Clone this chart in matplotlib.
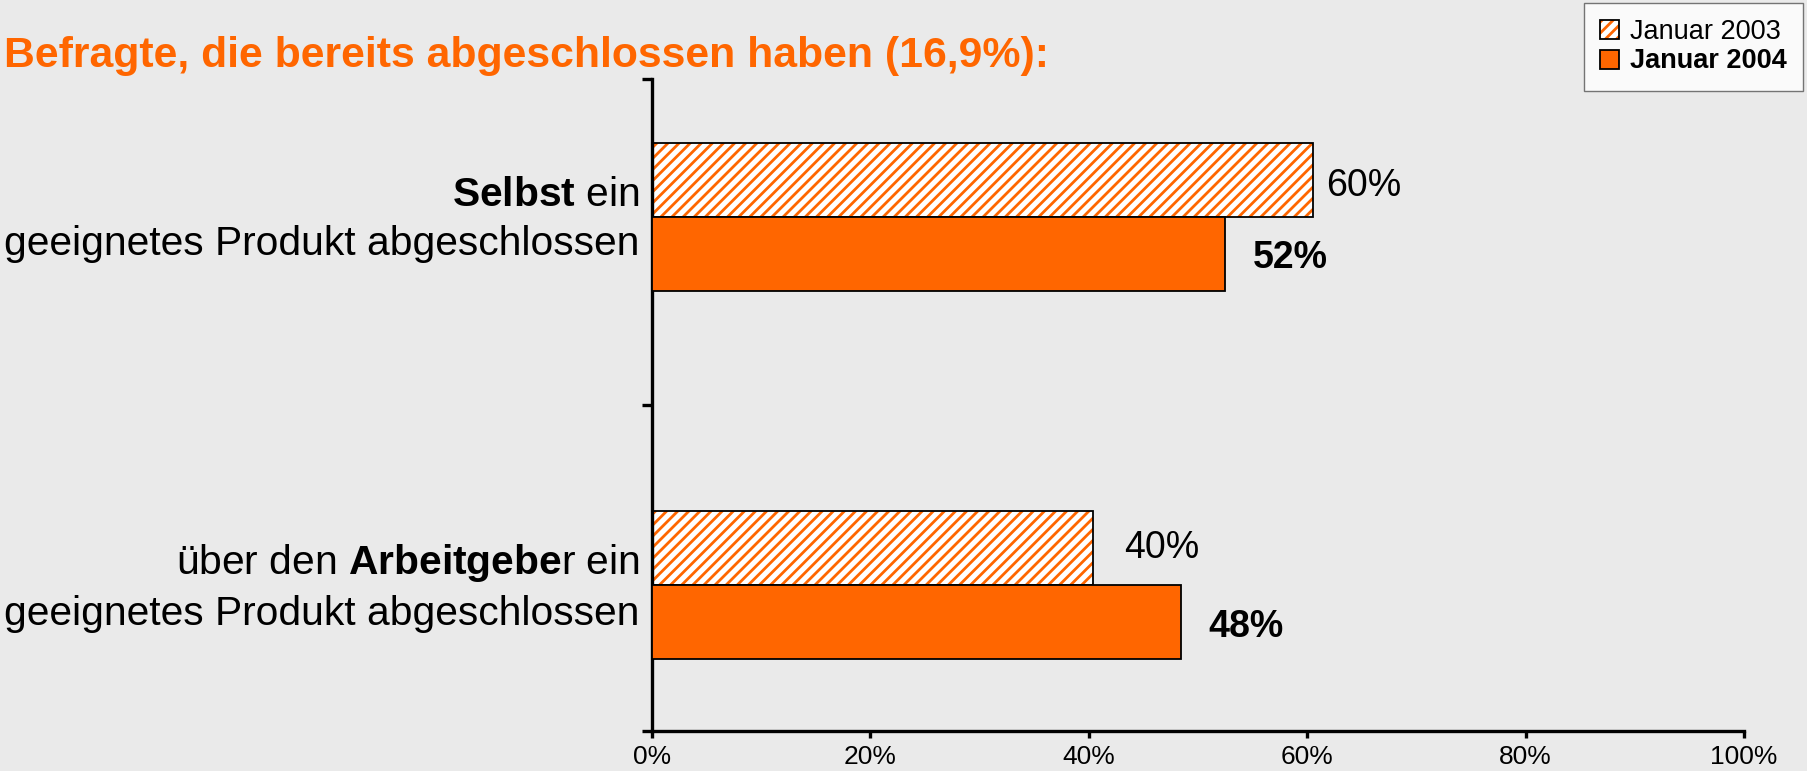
import matplotlib

matplotlib.use("Agg")
import matplotlib.pyplot as plt
from matplotlib.patches import Patch
from matplotlib.legend_handler import HandlerTuple

plt.rcParams["font.family"] = "Liberation Sans"
plt.rcParams["mathtext.fontset"] = "custom"
plt.rcParams["mathtext.rm"] = "Liberation Sans"
plt.rcParams["mathtext.bf"] = "Liberation Sans:bold"
plt.rcParams["hatch.linewidth"] = 2.0

ORANGE = "#FF6600"
BG = "#EAEAEA"

# data
categories = [
    "$\\mathbf{Selbst}$ ein\ngeeignetes Produkt abgeschlossen",
    "über den $\\mathbf{Arbeitgebe}$r ein\ngeeignetes Produkt abgeschlossen",
]
series_names = ["Januar 2003", "Januar 2004"]
values_2003 = [60.5, 40.4]
values_2004 = [52.5, 48.4]
x_ticks = [0, 20, 40, 60, 80, 100]
title = "Befragte, die bereits abgeschlossen haben (16,9%):"

# layout (group centres in axis units, y axis runs 0..2)
group_pos = [1.577, 0.448]
bar_h = 0.226
gap_2003 = [(10, -4), (22, 0)]  # label offset from bar end, points
gap_2004 = [(20, -3), (20, -4)]

fig = plt.figure(figsize=(18.07, 7.71), dpi=100, facecolor=BG)
ax = fig.add_axes([652 / 1807, 40 / 771, 1092 / 1807, 652 / 771])
ax.set_facecolor(BG)

y03 = [p + bar_h / 2 for p in group_pos]
y04 = [p - bar_h / 2 for p in group_pos]

ax.barh(y03, values_2003, height=bar_h, color="white", edgecolor=ORANGE,
        hatch="///", linewidth=0, zorder=2)
ax.barh(y03, values_2003, height=bar_h, fill=False, edgecolor="black",
        linewidth=1.3, zorder=3)
ax.barh(y04, values_2004, height=bar_h, color=ORANGE, edgecolor="black",
        linewidth=1.3, zorder=3)

for y, v, off in zip(y03, values_2003, gap_2003):
    ax.annotate(f"{int(v)}%", xy=(v, y), xytext=off, textcoords="offset points",
                ha="left", va="center", fontsize=27)
for y, v, off in zip(y04, values_2004, gap_2004):
    ax.annotate(f"{int(v)}%", xy=(v, y), xytext=off, textcoords="offset points",
                ha="left", va="center", fontsize=27, fontweight="bold")

for p, label in zip(group_pos, categories):
    ax.annotate(label, xy=(0, p), xytext=(-9, -2), textcoords="offset points",
                ha="right", va="center", fontsize=29.3, multialignment="right",
                linespacing=1.37, annotation_clip=False)

ax.set_xlim(0, 100)
ax.set_ylim(0, 2)
ax.set_xticks(x_ticks)
ax.set_xticklabels([f"{t}%" for t in x_ticks], fontsize=19)
ax.set_yticks([0, 1, 2])
ax.set_yticklabels([])
ax.tick_params(axis="x", direction="out", length=5, width=2.4, pad=5)
ax.tick_params(axis="y", direction="out", length=7, width=2.4)
for s in ("top", "right"):
    ax.spines[s].set_visible(False)
for s in ("left", "bottom"):
    ax.spines[s].set_linewidth(2.4)

fig.text(4 / 1807, 1 - 56 / 771, title, color=ORANGE, fontsize=30.8,
         fontweight="bold", ha="left", va="center")

h_hatch = Patch(facecolor="white", edgecolor=ORANGE, hatch="///", linewidth=0)
h_edge = Patch(fill=False, edgecolor="black", linewidth=1.3)
h_solid = Patch(facecolor=ORANGE, edgecolor="black", linewidth=1.3)
leg = fig.legend([(h_hatch, h_edge), h_solid], series_names,
                 handler_map={tuple: HandlerTuple(ndivide=1)},
                 loc="upper right", bbox_to_anchor=(1803 / 1807, 1 - 3 / 771),
                 fontsize=19.5, frameon=True, fancybox=False, borderaxespad=0,
                 borderpad=0.6, handlelength=0.7, handleheight=0.7,
                 handletextpad=0.4, labelspacing=0.12)
leg.get_frame().set_edgecolor("#555555")
leg.get_frame().set_linewidth(1.0)
leg.get_texts()[1].set_fontweight("bold")

fig.savefig("out.png", dpi=100, facecolor=BG)
